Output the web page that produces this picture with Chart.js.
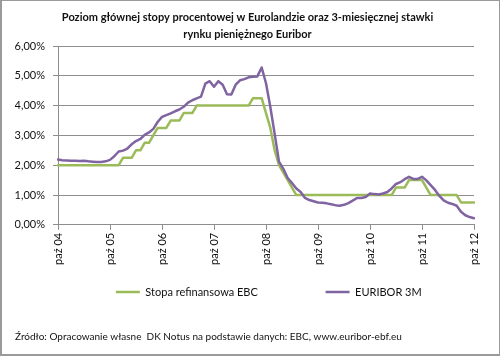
<!DOCTYPE html>
<html><head><meta charset="utf-8">
<script src="https://cdn.jsdelivr.net/npm/chart.js@4.4.0/dist/chart.umd.min.js"></script>
<style>
html,body{margin:0;padding:0;background:#fff;}
#wrap{position:relative;width:500px;height:356px;box-sizing:border-box;border:2px solid #9a9a9a;border-top-width:1px;border-right-width:1px;}
canvas{display:block;}
</style></head><body>
<div id="wrap"><canvas id="c"></canvas></div>
<script>
// Months from październik 2004 to październik 2012
const monthNames = ['sty','lut','mar','kwi','maj','cze','lip','sie','wrz','paź','lis','gru'];
const categories = [];
for (let k = 0; k < 97; k++) {
  const m = (9 + k) % 12;
  const y = 2004 + Math.floor((9 + k) / 12);
  categories.push(monthNames[m] + ' ' + String(y).slice(2));
}
const titleLines = ['Poziom głównej stopy procentowej w Eurolandzie oraz 3-miesięcznej stawki', 'rynku pieniężnego Euribor'];
const sourceText = 'Źródło: Opracowanie własne  DK Notus na podstawie danych: EBC, www.euribor-ebf.eu';
const seriesNames = ['Stopa refinansowa EBC', 'EURIBOR 3M'];

const ecbRate = [
  2.00,2.00,2.00,2.00,2.00,2.00,2.00,2.00,2.00,2.00,
  2.00,2.00,2.00,2.00,2.00,2.25,2.25,2.25,2.50,2.50,
  2.75,2.75,3.00,3.25,3.25,3.25,3.50,3.50,3.50,3.75,
  3.75,3.75,4.00,4.00,4.00,4.00,4.00,4.00,4.00,4.00,
  4.00,4.00,4.00,4.00,4.00,4.25,4.25,4.25,3.75,3.25,
  2.50,2.00,1.75,1.50,1.25,1.00,1.00,1.00,1.00,1.00,
  1.00,1.00,1.00,1.00,1.00,1.00,1.00,1.00,1.00,1.00,
  1.00,1.00,1.00,1.00,1.00,1.00,1.00,1.00,1.25,1.25,
  1.25,1.50,1.50,1.50,1.50,1.25,1.00,1.00,1.00,1.00,
  1.00,1.00,1.00,0.75,0.75,0.75,0.75
];
const euribor3m = [
  2.19,2.17,2.16,2.15,2.15,2.14,2.15,2.13,2.12,2.11,
  2.11,2.13,2.18,2.30,2.46,2.49,2.56,2.70,2.81,2.88,
  3.02,3.10,3.22,3.45,3.62,3.68,3.74,3.81,3.87,3.96,
  4.10,4.18,4.24,4.30,4.74,4.82,4.63,4.82,4.70,4.38,
  4.37,4.70,4.85,4.89,4.95,4.97,4.98,5.28,4.75,3.95,
  3.05,2.12,1.88,1.57,1.40,1.22,1.10,0.90,0.83,0.79,
  0.75,0.74,0.72,0.69,0.66,0.64,0.67,0.73,0.81,0.90,
  0.90,0.93,1.05,1.03,1.02,1.05,1.10,1.22,1.37,1.43,
  1.53,1.61,1.54,1.54,1.61,1.49,1.33,1.17,0.97,0.82,
  0.74,0.70,0.64,0.44,0.32,0.26,0.22
];

const FONT = 'Lato, "Open Sans", sans-serif';
const GRID = '#8e8e8e';
const LEGEND_FONT_SIZE = 11;
const LEGEND_BOX = 24;
const LEGEND_PAD = 18.5;
// width each legend entry should take (sample + text + trailing room)
const legendSlots = [191.5, 130.5];

const measureCtx = document.createElement('canvas').getContext('2d');
function padLabel(text, slot) {
  measureCtx.font = LEGEND_FONT_SIZE + 'px ' + FONT;
  const target = slot - LEGEND_BOX - LEGEND_FONT_SIZE / 2;
  let s = text;
  while (measureCtx.measureText(s + '\u00A0').width <= target) s += '\u00A0';
  while (measureCtx.measureText(s + '\u200A').width <= target) s += '\u200A';
  return s;
}

const shiftTitle = {
  id: 'shiftTitle',
  afterLayout(chart) {
    if (chart.titleBlock) { chart.titleBlock.left += 3; chart.titleBlock.right += 3; }
  }
};

new Chart(document.getElementById('c'), {
  type: 'line',
  data: {
    labels: categories,
    datasets: [
      { label: seriesNames[0], data: ecbRate, borderColor: '#9bbb59', backgroundColor: '#9bbb59', borderWidth: 2.5, order: 1 },
      { label: seriesNames[1], data: euribor3m, borderColor: '#8064a2', backgroundColor: '#8064a2', borderWidth: 2.5, order: 0 }
    ]
  },
  plugins: [shiftTitle],
  options: {
    responsive: true,
    maintainAspectRatio: false,
    animation: false,
    layout: { padding: { left: 13, right: 25, top: 4, bottom: 4 } },
    elements: { point: { radius: 0 }, line: { tension: 0, borderCapStyle: 'round', borderJoinStyle: 'round' } },
    plugins: {
      title: {
        display: true, text: titleLines, color: '#111',
        font: { family: FONT, size: 11, weight: 'bold', lineHeight: 17 / 11 },
        padding: { top: 3.5, bottom: 3.5 }
      },
      subtitle: {
        display: true, position: 'bottom', align: 'start', text: sourceText, color: '#111',
        font: { family: FONT, size: 10 }, padding: { top: 23.5, bottom: 7 }
      },
      legend: {
        position: 'bottom',
        align: 'end',
        labels: {
          usePointStyle: true, pointStyle: 'line', pointStyleWidth: LEGEND_BOX,
          color: '#111', font: { family: FONT, size: LEGEND_FONT_SIZE }, padding: LEGEND_PAD,
          sort: (a, b) => a.datasetIndex - b.datasetIndex,
          generateLabels: (chart) => {
            const items = Chart.defaults.plugins.legend.labels.generateLabels(chart);
            items.sort((a, b) => a.datasetIndex - b.datasetIndex);
            items.forEach((it) => { it.text = padLabel(it.text, legendSlots[it.datasetIndex]); });
            return items;
          }
        }
      },
      tooltip: { enabled: false }
    },
    scales: {
      x: {
        type: 'category',
        offset: false,
        grid: {
          drawOnChartArea: false,
          tickLength: 5,
          color: (ctx) => (ctx.index % 12 === 0 ? GRID : 'rgba(0,0,0,0)')
        },
        border: { color: GRID },
        ticks: {
          autoSkip: false, minRotation: 90, maxRotation: 90, padding: 3,
          color: '#111', font: { family: FONT, size: 11 },
          callback: function (v, i) { return i % 12 === 0 ? this.getLabelForValue(v) : ''; }
        }
      },
      y: {
        min: 0, max: 6,
        afterFit: (scale) => { scale.width = 43; },
        grid: { color: GRID, tickLength: 5 },
        border: { color: GRID },
        ticks: {
          stepSize: 1, padding: 8, color: '#111', font: { family: FONT, size: 11 },
          callback: (v) => v.toFixed(2).replace('.', ',') + '%'
        }
      }
    }
  }
});
</script>
</body></html>
